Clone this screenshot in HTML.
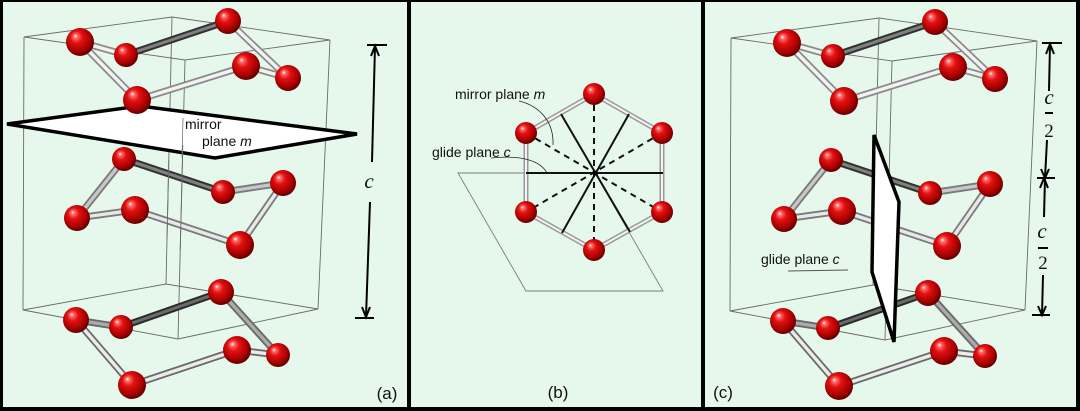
<!DOCTYPE html>
<html><head><meta charset="utf-8"><style>
html,body{margin:0;padding:0;background:#000;}
svg{display:block;}
text{font-family:"Liberation Sans",Arial,sans-serif;fill:#111;}
.ser{font-family:"Liberation Serif",serif;}
</style></head><body>
<svg width="1080" height="411" viewBox="0 0 1080 411" xmlns="http://www.w3.org/2000/svg">
<defs>
<radialGradient id="ball" cx="0.45" cy="0.42" r="0.62" fx="0.33" fy="0.28">
<stop offset="0" stop-color="#ffffff"/>
<stop offset="0.12" stop-color="#ff6a6a"/>
<stop offset="0.35" stop-color="#e41010"/>
<stop offset="0.75" stop-color="#a40000"/>
<stop offset="1" stop-color="#4a0000"/>
</radialGradient>
<g id="box" fill="none" stroke="#6a6a6a" stroke-width="0.9">
<path d="M24,37 L172,17 L330,40 L185,60 Z"/>
<path d="M23,310 L166,284 L318,309 L178,339 Z"/>
<path d="M24,37 L23,310 M172,17 L166,284 M330,40 L318,309 M185,60 L178,339"/>
</g>
<g id="front" fill="none" stroke="#6a6a6a" stroke-width="0.9">
<path d="M168.8,160 L167,240 M182.8,145 L180.2,250"/>
</g>
<g id="top">
<g stroke-linecap="round">
<line x1="126" y1="55" x2="228" y2="21" stroke="#333" stroke-width="7"/>
<line x1="126" y1="55" x2="228" y2="21" stroke="#808080" stroke-width="3"/>
<g stroke="#8c8c8c" stroke-width="7">
<line x1="80" y1="42" x2="126" y2="55"/><line x1="228" y1="21" x2="288" y2="78"/>
<line x1="288" y1="78" x2="246" y2="66"/><line x1="246" y1="66" x2="137" y2="100"/>
<line x1="137" y1="100" x2="80" y2="42"/></g>
<g stroke="#f2f2f2" stroke-width="3.4">
<line x1="80" y1="42" x2="126" y2="55"/><line x1="228" y1="21" x2="288" y2="78"/>
<line x1="288" y1="78" x2="246" y2="66"/><line x1="246" y1="66" x2="137" y2="100"/>
<line x1="137" y1="100" x2="80" y2="42"/></g>
</g>
<g fill="url(#ball)">
<circle cx="228" cy="21" r="13"/><circle cx="126" cy="55" r="12"/><circle cx="80" cy="42" r="14"/>
<circle cx="288" cy="78" r="13"/><circle cx="246" cy="66" r="14"/><circle cx="137" cy="100" r="14"/>
</g>
</g>
<g id="midb" stroke-linecap="round">
<line x1="124" y1="159" x2="223" y2="192" stroke="#333" stroke-width="7"/>
<line x1="124" y1="159" x2="223" y2="192" stroke="#808080" stroke-width="3"/>
<g stroke="#7a7a7a" stroke-width="7">
<line x1="223" y1="192" x2="283" y2="183"/><line x1="283" y1="183" x2="240" y2="245"/>
<line x1="240" y1="245" x2="135" y2="210"/><line x1="135" y1="210" x2="77" y2="218"/>
<line x1="77" y1="218" x2="124" y2="159"/></g>
<g stroke="#e8e8e8" stroke-width="3.4">
<line x1="283" y1="183" x2="240" y2="245"/>
<line x1="240" y1="245" x2="135" y2="210"/><line x1="135" y1="210" x2="77" y2="218"/></g>
<g stroke="#c8c8c8" stroke-width="3.2">
<line x1="223" y1="192" x2="283" y2="183"/><line x1="77" y1="218" x2="124" y2="159"/></g>
</g>
<g id="mida" fill="url(#ball)">
<circle cx="124" cy="159" r="12"/><circle cx="223" cy="192" r="12"/><circle cx="283" cy="183" r="13"/>
<circle cx="77" cy="218" r="13"/><circle cx="135" cy="210" r="14"/><circle cx="240" cy="245" r="14"/>
</g>
<g id="botb" stroke-linecap="round">
<line x1="121" y1="327" x2="221" y2="292" stroke="#2a2a2a" stroke-width="7"/>
<line x1="121" y1="327" x2="221" y2="292" stroke="#6a6a6a" stroke-width="3"/>
<g stroke="#6a6a6a" stroke-width="7">
<line x1="76" y1="320" x2="121" y2="327"/><line x1="221" y1="292" x2="278" y2="355"/>
<line x1="278" y1="355" x2="237" y2="350"/><line x1="237" y1="350" x2="132" y2="385"/>
<line x1="132" y1="385" x2="76" y2="320"/></g>
<g stroke="#ababab" stroke-width="3.2">
<line x1="76" y1="320" x2="121" y2="327"/><line x1="221" y1="292" x2="278" y2="355"/></g>
<g stroke="#ececec" stroke-width="3.4">
<line x1="278" y1="355" x2="237" y2="350"/><line x1="237" y1="350" x2="132" y2="385"/>
<line x1="132" y1="385" x2="76" y2="320"/></g>
</g>
<g id="bota" fill="url(#ball)">
<circle cx="221" cy="292" r="13"/><circle cx="76" cy="320" r="13"/><circle cx="121" cy="327" r="12"/>
<circle cx="278" cy="355" r="12"/><circle cx="237" cy="350" r="14"/><circle cx="132" cy="385" r="14"/>
</g>
</defs>

<!-- panels -->
<rect x="0" y="0" width="1080" height="411" fill="#000"/>
<rect x="3" y="2" width="404" height="405" fill="#e6f8eb"/>
<rect x="411" y="2" width="290" height="405" fill="#e6f8eb"/>
<rect x="705" y="2" width="371" height="405" fill="#e6f8eb"/>

<!-- Panel (a) -->
<use href="#box"/>
<polygon points="7,124 140,106 357,134 215,158" fill="#fff" stroke="#000" stroke-width="3.5" stroke-linejoin="miter"/>
<line x1="183" y1="118" x2="182" y2="158" stroke="#777" stroke-width="0.8"/>
<text x="185" y="129" font-size="14">mirror</text>
<text x="202" y="146" font-size="14">plane <tspan font-style="italic">m</tspan></text>
<use href="#top"/>
<use href="#midb"/>
<use href="#front"/>
<use href="#mida"/>
<use href="#botb"/>
<use href="#bota"/>
<g stroke="#000" stroke-width="2" fill="none">
<line x1="375" y1="46" x2="372" y2="162"/>
<line x1="370" y1="202" x2="366" y2="317"/>
<line x1="367" y1="45" x2="387" y2="45"/>
<line x1="355" y1="318" x2="374" y2="318"/>
<polyline points="371,56 375,46 379,56"/>
<polyline points="362,307 366,317 370,307"/>
</g>
<text x="369" y="188" font-size="21" class="ser" font-style="italic" text-anchor="middle">c</text>
<text x="387" y="399" font-size="17" text-anchor="middle">(a)</text>

<!-- Panel (b) -->
<path d="M458,173 L595,173 L663,291 L526,291 Z" fill="none" stroke="#7a7a7a" stroke-width="0.9"/>
<g stroke="#999" stroke-width="5" stroke-linecap="round">
<line x1="594" y1="94" x2="526" y2="133"/><line x1="594" y1="94" x2="662" y2="133"/>
<line x1="526" y1="133" x2="526" y2="212"/><line x1="662" y1="133" x2="662" y2="212"/>
<line x1="526" y1="212" x2="594" y2="250"/><line x1="662" y1="212" x2="594" y2="250"/>
</g>
<g stroke="#f4f4f4" stroke-width="2">
<line x1="594" y1="94" x2="526" y2="133"/><line x1="594" y1="94" x2="662" y2="133"/>
<line x1="526" y1="133" x2="526" y2="212"/><line x1="662" y1="133" x2="662" y2="212"/>
<line x1="526" y1="212" x2="594" y2="250"/><line x1="662" y1="212" x2="594" y2="250"/>
</g>
<g stroke="#111" stroke-width="2">
<line x1="526" y1="173" x2="663" y2="173"/>
<line x1="561" y1="114" x2="630" y2="232"/>
<line x1="629" y1="114" x2="562" y2="233"/>
</g>
<g stroke="#111" stroke-width="2" stroke-dasharray="6,5">
<line x1="594" y1="94" x2="594" y2="250"/>
<line x1="526" y1="133" x2="662" y2="212"/>
<line x1="662" y1="133" x2="526" y2="212"/>
</g>
<circle cx="595" cy="173" r="2.5" fill="#000"/>
<g fill="url(#ball)">
<circle cx="594" cy="94" r="11"/><circle cx="526" cy="133" r="11"/><circle cx="662" cy="133" r="11"/>
<circle cx="526" cy="212" r="11"/><circle cx="662" cy="212" r="11"/><circle cx="594" cy="250" r="11"/>
</g>
<g fill="none" stroke="#222" stroke-width="0.8">
<path d="M519,101 C540,106 554,122 553,145"/>
<path d="M491,158 C520,155 540,160 547,173"/>
</g>
<text x="455" y="99" font-size="14">mirror plane <tspan font-style="italic">m</tspan></text>
<text x="432" y="157" font-size="14">glide plane <tspan font-style="italic">c</tspan></text>
<text x="558" y="398" font-size="17" text-anchor="middle">(b)</text>

<!-- Panel (c) -->
<g transform="translate(707,1)">
<use href="#box"/>
<use href="#top"/>
<use href="#midb"/>
<use href="#botb"/>
</g>
<polygon points="874,135 899,202 894,342 872,272" fill="#fff" stroke="#000" stroke-width="3.5" stroke-linejoin="miter"/>
<g transform="translate(707,1)">
<use href="#mida"/>
<use href="#bota"/>
</g>
<line x1="788" y1="271" x2="848" y2="270" stroke="#555" stroke-width="0.9"/>
<text x="761" y="264" font-size="14">glide plane <tspan font-style="italic">c</tspan></text>
<g stroke="#000" stroke-width="2" fill="none">
<line x1="1042" y1="43" x2="1062" y2="43"/>
<line x1="1050" y1="44" x2="1049" y2="91"/>
<polyline points="1046,54 1050,44 1054,54"/>
<line x1="1045" y1="113" x2="1053" y2="113"/>
<line x1="1047" y1="140" x2="1045" y2="178"/>
<polyline points="1041,169 1045,178 1049,169"/>
<polyline points="1040,188 1044,178 1048,188"/>
<line x1="1037" y1="178" x2="1055" y2="178"/>
<line x1="1045" y1="178" x2="1044" y2="217"/>
<line x1="1038" y1="248" x2="1048" y2="248"/>
<line x1="1043" y1="275" x2="1042" y2="315"/>
<polyline points="1038,306 1042,315 1046,306"/>
<line x1="1032" y1="315" x2="1050" y2="315"/>
</g>
<text x="1049" y="104" font-size="21" class="ser" font-style="italic" text-anchor="middle">c</text>
<text x="1049" y="137" font-size="19" class="ser" text-anchor="middle">2</text>
<text x="1042" y="238" font-size="21" class="ser" font-style="italic" text-anchor="middle">c</text>
<text x="1043" y="269" font-size="19" class="ser" text-anchor="middle">2</text>
<text x="723" y="398" font-size="17" text-anchor="middle">(c)</text>
</svg>
</body></html>
